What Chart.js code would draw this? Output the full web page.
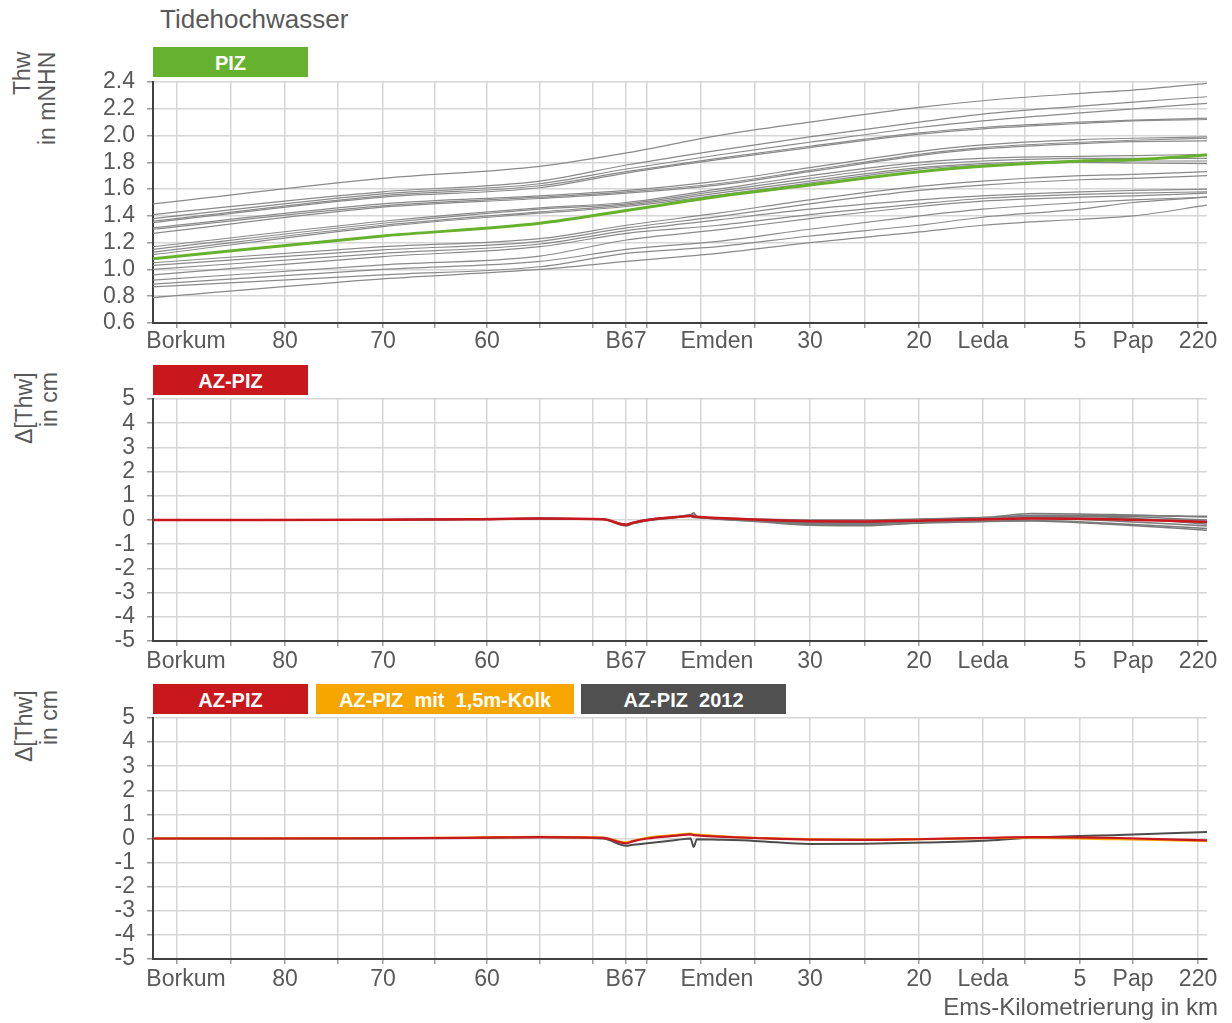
<!DOCTYPE html>
<html lang="de">
<head>
<meta charset="utf-8">
<title>Tidehochwasser</title>
<script src="https://cdn.jsdelivr.net/npm/chart.js@4.4.1/dist/chart.umd.min.js"></script>
<style>
  body { margin: 0; background: #fff; width: 1232px; height: 1023px; position: relative; overflow: hidden;
         font-family: "Liberation Sans", Arial, sans-serif; color: #595959; }
  canvas { position: absolute; left: 0; }
  .titel { position: absolute; left: 160px; top: 6px; font-size: 26px; line-height: 26px; }
  .achse { position: absolute; width: 50px; writing-mode: vertical-rl; transform: rotate(180deg);
           text-align: end; font-size: 23px; line-height: 25px; white-space: nowrap; }
  .box { position: absolute; height: 30px; line-height: 32px; color: #fff; font-weight: bold;
         font-size: 20px; text-align: center; white-space: pre; }
  .xtitel { position: absolute; right: 14px; top: 995px; font-size: 24px; line-height: 24px; }
</style>
</head>
<body>
<div class="titel">Tidehochwasser</div>

<div class="achse" style="left:10px; top:52px; height:120px;">Thw<br>in mNHN</div>
<div class="box" style="left:153px; top:47px; width:155px; background:#66b22e;">PIZ</div>
<canvas id="thwChart" width="1232" height="360" style="top:0px;"></canvas>

<div class="achse" style="left:12px; top:372px; height:100px;">Δ[Thw]<br>in cm</div>
<div class="box" style="left:153px; top:365px; width:155px; background:#c8181e;">AZ-PIZ</div>
<canvas id="diffChart" width="1232" height="320" style="top:360px;"></canvas>

<div class="achse" style="left:12px; top:690px; height:100px;">Δ[Thw]<br>in cm</div>
<div class="box" style="left:153px; top:684px; width:155px; background:#c8181e;">AZ-PIZ</div>
<div class="box" style="left:316px; top:684px; width:258px; background:#f7a600;">AZ-PIZ  mit  1,5m-Kolk</div>
<div class="box" style="left:581px; top:684px; width:205px; background:#505050;">AZ-PIZ  2012</div>
<canvas id="vergleichChart" width="1232" height="320" style="top:680px;"></canvas>

<div class="xtitel">Ems-Kilometrierung in km</div>

<script>
// Streckenposition 0..100 (Borkum links, Herbrum rechts)
const xTickPos = [2.28, 3.13, 7.4, 12.52, 17.55, 21.82, 26.76, 31.69, 36.72, 41.75, 44.88, 46.87,
  51.99, 53.5, 57.12, 62.33, 67.55, 72.68, 78.75, 82.73, 87.95, 92.98, 99.15];
const xTickLabels = ["", "Borkum", "", "80", "", "70", "", "60", "", "", "B67", "",
  "", "Emden", "", "30", "", "20", "Leda", "", "5", "Pap", "220"];
const xTickGrid = [1, 0, 1, 1, 1, 1, 1, 1, 1, 1, 1, 1, 1, 0, 1, 1, 1, 1, 1, 1, 1, 1, 1];

const yTicksThw = [0.6, 0.8, 1.0, 1.2, 1.4, 1.6, 1.8, 2.0, 2.2, 2.4];
const yTicksDiff = [-5, -4, -3, -2, -1, 0, 1, 2, 3, 4, 5];

// Tidehochwasser in mNHN
const thwX = [0, 21.8, 36.7, 44.9, 53.6, 62.3, 72.7, 78.7, 88.0, 93.0, 100];
const thwPIZ = [1.08, 1.25, 1.345, 1.44, 1.545, 1.63, 1.73, 1.77, 1.81, 1.82, 1.855];
const thwVarianten = [
  [1.49, 1.68, 1.77, 1.87, 2.00, 2.10, 2.21, 2.26, 2.315, 2.34, 2.39],
  [1.41, 1.58, 1.66, 1.78, 1.89, 1.99, 2.10, 2.16, 2.22, 2.25, 2.29],
  [1.38, 1.565, 1.64, 1.75, 1.855, 1.95, 2.06, 2.11, 2.17, 2.20, 2.24],
  [1.36, 1.55, 1.625, 1.73, 1.83, 1.92, 2.02, 2.06, 2.10, 2.115, 2.13],
  [1.35, 1.54, 1.61, 1.72, 1.82, 1.91, 2.01, 2.05, 2.09, 2.11, 2.12],
  [1.31, 1.49, 1.55, 1.59, 1.66, 1.76, 1.88, 1.93, 1.97, 1.98, 1.99],
  [1.30, 1.475, 1.54, 1.58, 1.64, 1.74, 1.86, 1.91, 1.95, 1.965, 1.98],
  [1.27, 1.465, 1.53, 1.57, 1.63, 1.73, 1.85, 1.90, 1.94, 1.955, 1.96],
  [1.17, 1.36, 1.46, 1.50, 1.60, 1.70, 1.80, 1.83, 1.845, 1.85, 1.86],
  [1.15, 1.345, 1.45, 1.49, 1.585, 1.68, 1.78, 1.81, 1.83, 1.83, 1.83],
  [1.13, 1.33, 1.43, 1.48, 1.57, 1.66, 1.76, 1.79, 1.81, 1.81, 1.81],
  [1.11, 1.32, 1.42, 1.47, 1.555, 1.645, 1.75, 1.78, 1.80, 1.795, 1.79],
  [1.05, 1.17, 1.23, 1.33, 1.42, 1.52, 1.62, 1.66, 1.70, 1.71, 1.73],
  [1.03, 1.146, 1.21, 1.31, 1.395, 1.49, 1.59, 1.63, 1.67, 1.68, 1.70],
  [1.00, 1.12, 1.19, 1.29, 1.37, 1.45, 1.52, 1.55, 1.58, 1.59, 1.60],
  [0.96, 1.096, 1.17, 1.27, 1.33, 1.41, 1.49, 1.53, 1.56, 1.57, 1.58],
  [0.92, 1.034, 1.10, 1.22, 1.295, 1.38, 1.47, 1.51, 1.54, 1.55, 1.57],
  [0.89, 1.00, 1.06, 1.15, 1.21, 1.30, 1.40, 1.45, 1.50, 1.52, 1.54],
  [0.87, 0.96, 1.02, 1.12, 1.17, 1.25, 1.33, 1.39, 1.45, 1.50, 1.54],
  [0.79, 0.93, 1.00, 1.06, 1.12, 1.20, 1.28, 1.33, 1.375, 1.40, 1.48]
];

// Differenzen in cm
const diffX = [0, 10, 20, 30, 36.7, 42.7, 44.9, 45.5, 46.9, 49.7, 51.0, 51.3, 51.6, 53.6,
  57.1, 62.3, 67.5, 73.3, 79.3, 83.4, 91.6, 100];
const diffAZ = [0, 0, 0.01, 0.03, 0.06, 0.03, -0.2, -0.12, 0.0, 0.12, 0.17, 0.14, 0.13, 0.08,
  0.02, -0.05, -0.06, -0.02, 0.03, 0.06, 0.02, -0.08];
const diffKolk = [0, 0, 0.01, 0.04, 0.07, 0.04, -0.16, -0.1, 0.03, 0.15, 0.2, 0.17, 0.16, 0.1,
  0.03, -0.03, -0.05, -0.03, 0.02, 0.04, -0.03, -0.1];
const diff2012 = [0, 0, 0, 0.02, 0.05, 0.0, -0.3, -0.26, -0.2, -0.06, 0.0, -0.35, -0.03, -0.05,
  -0.1, -0.23, -0.22, -0.17, -0.08, 0.04, 0.15, 0.27];
const diffVarianten = [
  [0, 0, 0.01, 0.03, 0.06, 0.03, -0.22, -0.15, -0.02, 0.12, 0.2, 0.3, 0.15, 0.06, 0.0, -0.1, -0.1, -0.02, 0.08, 0.2, 0.2, 0.15],
  [0, 0, 0.01, 0.03, 0.06, 0.03, -0.2, -0.12, 0, 0.13, 0.22, 0.12, 0.1, 0.05, -0.02, -0.15, -0.16, -0.06, 0.0, 0.1, 0.05, -0.05],
  [0, 0, 0.01, 0.02, 0.05, 0.02, -0.25, -0.16, -0.03, 0.1, 0.18, 0.1, 0.1, 0.03, -0.06, -0.22, -0.24, -0.1, -0.05, -0.02, -0.15, -0.35],
  [0, 0, 0.01, 0.03, 0.06, 0.04, -0.18, -0.1, 0.02, 0.14, 0.2, 0.25, 0.14, 0.08, 0.04, 0.0, 0.0, 0.05, 0.12, 0.27, 0.22, 0.12],
  [0, 0, 0.01, 0.03, 0.06, 0.03, -0.21, -0.13, -0.01, 0.11, 0.17, 0.12, 0.11, 0.04, -0.04, -0.12, -0.12, -0.03, 0.05, 0.15, 0.1, -0.18],
  [0, 0, 0.01, 0.03, 0.06, 0.03, -0.19, -0.11, 0.01, 0.12, 0.19, 0.14, 0.12, 0.06, 0.01, -0.06, -0.07, 0.0, 0.08, 0.18, 0.15, 0.0],
  [0, 0, 0.01, 0.03, 0.06, 0.03, -0.2, -0.13, 0, 0.12, 0.18, 0.13, 0.12, 0.05, -0.01, -0.08, -0.1, -0.04, 0.03, 0.08, -0.05, -0.25],
  [0, 0, 0.01, 0.02, 0.05, 0.03, -0.23, -0.14, -0.02, 0.11, 0.2, 0.16, 0.13, 0.06, -0.03, -0.18, -0.2, -0.12, -0.06, -0.04, -0.2, -0.42]
];

const textFarbe = "#595959";
const gitterFarbe = "#d6d6d6";
const achsenFarbe = "#404040";
const schrift = { family: '"Liberation Sans", Arial, sans-serif', size: 23 };

function punkte(xs, ys) {
  return xs.map((x, i) => ({ x: x, y: ys[i] }));
}

function linie(xs, ys, farbe, breite, order) {
  return {
    data: punkte(xs, ys),
    borderColor: farbe,
    borderWidth: breite,
    pointRadius: 0,
    fill: false,
    cubicInterpolationMode: "monotone",
    order: order,
  };
}

function erstelleDiagramm(id, datasets, yTicks, yFormat, padTop, xHoehe, xPadding) {
  const ctx = document.getElementById(id).getContext("2d");
  return new Chart(ctx, {
    type: "line",
    data: { datasets: datasets },
    options: {
      responsive: false,
      animation: false,
      devicePixelRatio: 1,
      layout: { padding: { top: padTop, right: 25, left: 0, bottom: 0 } },
      plugins: { legend: { display: false }, tooltip: { enabled: false } },
      scales: {
        x: {
          type: "linear",
          min: 0,
          max: 100,
          afterBuildTicks: (s) => { s.ticks = xTickPos.map((v) => ({ value: v })); },
          afterFit: (s) => { s.height = xHoehe; },
          ticks: {
            autoSkip: false, maxRotation: 0, minRotation: 0,
            padding: xPadding, color: textFarbe, font: schrift,
            callback: (v, i) => xTickLabels[i],
          },
          grid: {
            color: (c) => (xTickGrid[c.index] ? gitterFarbe : "rgba(0,0,0,0)"),
            tickColor: (c) => (xTickGrid[c.index] ? "#9a9a9a" : "rgba(0,0,0,0)"),
            lineWidth: 1.5,
            tickLength: 5,
          },
          border: { color: achsenFarbe, width: 2 },
        },
        y: {
          min: yTicks[0],
          max: yTicks[yTicks.length - 1],
          afterBuildTicks: (s) => { s.ticks = yTicks.map((v) => ({ value: v })); },
          afterFit: (s) => { s.width = 153; },
          ticks: {
            autoSkip: false, padding: 12, color: textFarbe, font: schrift,
            callback: (v) => yFormat(v),
          },
          grid: { color: gitterFarbe, lineWidth: 1.5, tickLength: 6, tickColor: "#9a9a9a" },
          border: { color: achsenFarbe, width: 2 },
        },
      },
    },
  });
}

// Oben: Thw aller Zustände, PIZ hervorgehoben
const thwDatasets = thwVarianten.map((v) => linie(thwX, v, "#8a8a8a", 1.2, 1));
thwDatasets.push(linie(thwX, thwPIZ, "#66b22e", 3, 0));
erstelleDiagramm("thwChart", thwDatasets, yTicksThw, (v) => v.toFixed(1), 82, 37, 0);

// Mitte: AZ-PIZ mit Streuung
const diffDatasets = diffVarianten.map((v) => linie(diffX, v, "#7a7a7a", 1.5, 1));
diffDatasets.push(linie(diffX, diffAZ, "#c8181e", 2.5, 0));
erstelleDiagramm("diffChart", diffDatasets, yTicksDiff, (v) => String(v), 39, 39, 2);

// Unten: Vergleich der Varianten
erstelleDiagramm("vergleichChart", [
  linie(diffX, diffAZ, "#c8181e", 2.2, 0),
  linie(diffX, diffKolk, "#f7a600", 2.2, 1),
  linie(diffX, diff2012, "#4d4d4d", 2, 2),
], yTicksDiff, (v) => String(v), 38, 41, 2);
</script>
</body>
</html>
